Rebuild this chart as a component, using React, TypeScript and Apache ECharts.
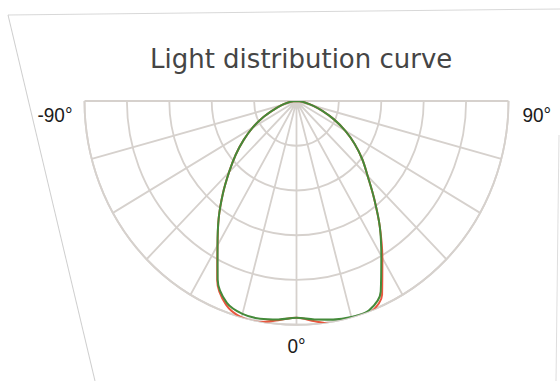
import React, { useEffect, useRef } from "react";
import * as echarts from "echarts";

// ---- data ----
const titleText = "Light distribution curve";
const angleDegrees = [
  -90, -85, -80, -75, -70, -65, -60, -55, -50, -45, -40, -35, -30, -25, -20, -15, -10, -5, 0,
  5, 10, 15, 20, 25, 30, 35, 40, 45, 50, 55, 60, 65, 70, 75, 80, 85, 90,
];
const greenValues = [
  0, 1.5, 4, 7.5, 11.5, 17.5, 24, 30.5, 37.5, 45, 54, 64, 74.5, 88, 96, 98.5, 98.8, 98, 96.9,
  98, 99.2, 100, 99.7, 94, 80, 68.5, 57, 47.5, 40.5, 33.5, 26.5, 19.5, 13, 8, 4, 1.5, 0,
];
const redValues = [
  0, 1.5, 4, 7.5, 11.5, 17.5, 24, 30.5, 37.5, 45, 54, 64, 74.5, 88.5, 97, 100.2, 100.3, 98.3, 96.9,
  98.8, 101.2, 101.8, 101, 95.5, 81, 68.5, 57, 47.5, 40.5, 33.5, 26.5, 19.5, 13, 8, 4, 1.5, 0,
];
const angleTickLabels: Record<string, string> = { "-90": "-90°", "0": "0°", "90": "90°" };
const radiusMin = 0;
const radiusMax = 100;
const radiusStep = 20;
const angleMin = -90;
const angleMax = 90;
const angleStep = 15;

const STRETCH = 381 / 361;

export default function App() {
  const ref = useRef<HTMLDivElement>(null);

  useEffect(() => {
    if (!ref.current) return;
    const chart = echarts.init(ref.current, undefined, { renderer: "svg" });
    const gridColor = "#d6d1cd";
    const labelFont = {
      fontSize: 19,
      fontFamily: "Liberation Sans",
      color: "#1c1c1c",
    };
    chart.setOption({
      animation: false,
      backgroundColor: "#ffffff",
      title: {
        text: titleText,
        left: 145,
        top: 37,
        textStyle: {
          fontFamily: "DejaVu Sans",
          fontSize: 26,
          fontWeight: "normal",
          color: "#454545",
        },
      },
      polar: {
        center: [296.5, 95.7],
        radius: 212,
      },
      angleAxis: {
        type: "value",
        min: angleMin,
        max: angleMax,
        interval: angleStep,
        startAngle: 180,
        endAngle: 360,
        clockwise: false,
        axisLine: { show: true, lineStyle: { color: gridColor, width: 1.8 } },
        axisTick: { show: false },
        splitLine: { show: true, lineStyle: { color: gridColor, width: 1.8 } },
        axisLabel: {
          show: true,
          margin: 10,
          formatter: (v: number) => {
            const t = angleTickLabels[String(v)];
            if (!t) return "";
            if (v < 0) return "{l|" + t + "}";
            if (v > 0) return "{r|" + t + "}";
            return "{b|" + t + "}";
          },
          rich: {
            l: { ...labelFont, padding: [27, 2, 0, 0] },
            r: { ...labelFont, padding: [27, 0, 0, 4] },
            b: { ...labelFont },
          },
        },
      },
      radiusAxis: {
        type: "value",
        min: radiusMin,
        max: radiusMax,
        interval: radiusStep,
        axisLine: { show: false },
        axisTick: { show: false },
        axisLabel: { show: false },
        splitLine: { show: true, lineStyle: { color: gridColor, width: 1.8 } },
      },
      graphic: [
        {
          type: "polyline",
          shape: { points: [[8, 14.2], [560, 8.5]] },
          style: { stroke: "#d8d8d8", lineWidth: 1, fill: "none" },
          silent: true,
        },
        {
          type: "line",
          shape: { x1: 8, y1: 14.2, x2: 95, y2: 361 },
          style: { stroke: "#cfcfcf", lineWidth: 1 },
          silent: true,
        },
        {
          type: "line",
          shape: { x1: 559, y1: 128, x2: 556, y2: 361 },
          style: { stroke: "#dedede", lineWidth: 1 },
          silent: true,
        },
      ],
      series: [
        {
          type: "line",
          coordinateSystem: "polar",
          data: angleDegrees.map((a, i) => [redValues[i], a]),
          symbol: "none",
          smooth: 0.35,
          clip: false,
          z: 2,
          lineStyle: { color: "#e8573f", width: 2 },
        },
        {
          type: "line",
          coordinateSystem: "polar",
          data: angleDegrees.map((a, i) => [greenValues[i], a]),
          symbol: "none",
          smooth: 0.35,
          clip: false,
          z: 3,
          lineStyle: { color: "#448a3a", width: 2 },
        },
      ],
    });
    return () => chart.dispose();
  }, []);

  return (
    <div
      style={{
        position: "absolute",
        left: 0,
        top: 0,
        width: 560,
        height: 381,
        overflow: "hidden",
        background: "#ffffff",
      }}
    >
      <div
        ref={ref}
        style={{
          width: 560,
          height: 361,
          transform: `scaleY(${STRETCH})`,
          transformOrigin: "0 0",
        }}
      />
    </div>
  );
}
